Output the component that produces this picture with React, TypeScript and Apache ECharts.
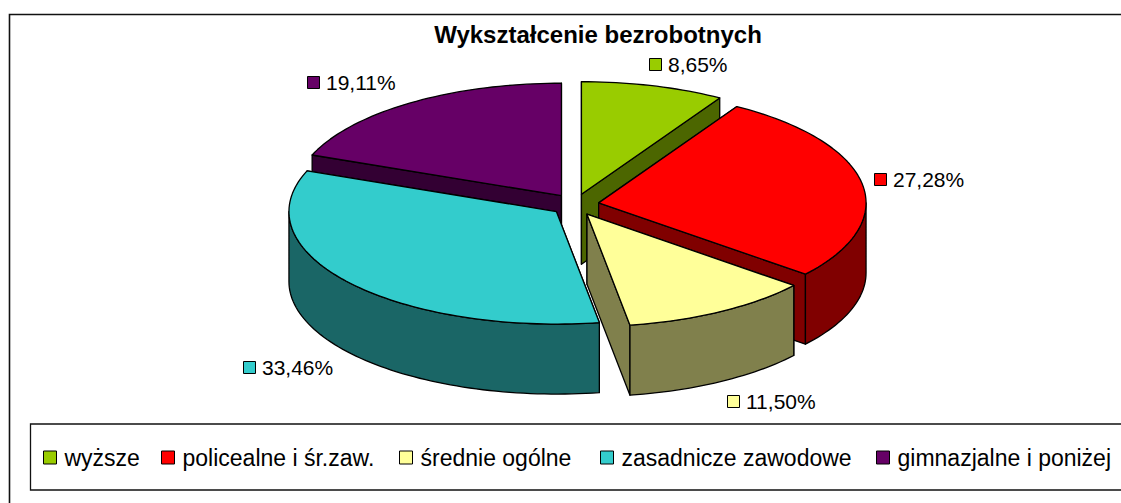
import React, { useEffect, useRef } from "react";
import * as echarts from "echarts";

const TITLE = "Wykształcenie bezrobotnych";
const categories = ["wyższe", "policealne i śr.zaw.", "średnie ogólne", "zasadnicze zawodowe", "gimnazjalne i poniżej"];
const shares = [8.65, 27.28, 11.5, 33.46, 19.11];

const topColors = ["#99CC00", "#FF0000", "#FFFF99", "#33CCCC", "#660066"];
const sideColors = ["#4C6600", "#800000", "#80804C", "#1A6666", "#330033"];
// painter's order: back slices first
const drawOrder = [4, 0, 1, 2, 3];
// top-left corner of each label's colour key
const labelKeys = [
  [649, 58],
  [874, 173],
  [727, 395],
  [243, 361],
  [307, 76],
];
const legendLefts = [43, 161, 399, 600, 876];

const FONT = "Liberation Sans";
const CX = 575;
const CY = 204.7;
const RX = 267.4;
const RY = 112.5;
const DEPTH = 70;
const EXPLODE_X = 24;
const EXPLODE_Y = 10.9;

const rad = (d: number) => (d * Math.PI) / 180;
const total = shares.reduce((a, b) => a + b, 0);
const startAngles = shares.map((_, i) => (shares.slice(0, i).reduce((a, b) => a + b, 0) / total) * 360);

function makeSeries(i: number, z: number) {
  return {
    type: "custom",
    name: categories[i],
    coordinateSystem: "none",
    z,
    silent: true,
    data: [shares[i]],
    itemStyle: { color: topColors[i], borderColor: "#000", borderWidth: 1 },
    renderItem: (_: any, api: any) => {
      const a0 = startAngles[i];
      const a1 = a0 + (api.value(0) / total) * 360;
      const mid = (a0 + a1) / 2;
      const ax = CX + EXPLODE_X * Math.sin(rad(mid));
      const ay = CY - EXPLODE_Y * Math.cos(rad(mid));
      const pt = (d: number, dy = 0) => [ax + RX * Math.sin(rad(d)), ay - RY * Math.cos(rad(d)) + dy];
      const arc = (from: number, to: number, dy = 0) => {
        const n = Math.max(1, Math.ceil((to - from) / 1.5));
        const out: number[][] = [];
        for (let k = 0; k <= n; k++) out.push(pt(from + ((to - from) * k) / n, dy));
        return out;
      };
      const line = { stroke: "#000", lineWidth: 1.3, lineJoin: "round" };
      const side = { ...line, fill: sideColors[i] };
      const face = (d: number) => ({
        type: "polygon",
        shape: { points: [[ax, ay], pt(d), pt(d, DEPTH), [ax, ay + DEPTH]] },
        style: side,
      });
      const children: any[] = [face(a0), face(a1)];
      const s0 = Math.max(a0, 90);
      const s1 = Math.min(a1, 270);
      if (s1 > s0) {
        children.push({
          type: "polygon",
          shape: { points: [...arc(s0, s1), ...arc(s0, s1, DEPTH).reverse()] },
          style: side,
        });
      }
      children.push({
        type: "polygon",
        shape: { points: [[ax, ay], ...arc(a0, a1)] },
        style: { ...line, fill: topColors[i] },
      });
      const [kx, ky] = labelKeys[i];
      children.push({
        type: "rect",
        shape: { x: kx + 0.5, y: ky + 0.5, width: 12, height: 12 },
        style: { fill: topColors[i], stroke: "#000", lineWidth: 1 },
      });
      children.push({
        type: "text",
        x: kx + 19,
        y: ky + 6,
        style: {
          text: api.value(0).toFixed(2).replace(".", ",") + "%",
          fill: "#000",
          fontFamily: FONT,
          fontSize: 21,
          textAlign: "left",
          textVerticalAlign: "middle",
        },
      });
      return { type: "group", children };
    },
  };
}

export default function App() {
  const ref = useRef<HTMLDivElement>(null);
  useEffect(() => {
    const chart = echarts.init(ref.current!, undefined, { renderer: "svg" });
    chart.setOption({
      animation: false,
      backgroundColor: "#fff",
      title: {
        text: TITLE,
        left: 598,
        top: 22,
        textAlign: "center",
        padding: 0,
        textStyle: { fontFamily: FONT, fontSize: 24, fontWeight: "bold", color: "#000" },
      },
      legend: categories.map((name, i) => ({
        data: [name],
        orient: "horizontal",
        left: legendLefts[i],
        top: 446,
        padding: 0,
        itemWidth: 13,
        itemHeight: 13,
        icon: "rect",
        selectedMode: false,
        itemStyle: { borderColor: "#000", borderWidth: 1 },
        textStyle: { fontFamily: FONT, fontSize: 23, color: "#000", padding: [0, 0, 0, 3] },
      })),
      graphic: [
        {
          type: "rect",
          silent: true,
          z: -1,
          shape: { x: 9.5, y: 14.5, width: 1130, height: 510 },
          style: { fill: "#fff", stroke: "#111", lineWidth: 1.6 },
        },
        {
          type: "rect",
          silent: true,
          z: 0,
          shape: { x: 30.5, y: 424, width: 1110, height: 66 },
          style: { fill: "#fff", stroke: "#111", lineWidth: 1.3 },
        },
      ],
      series: drawOrder.map((i, k) => makeSeries(i, 2 + k)),
    });
    return () => chart.dispose();
  }, []);
  return (
    <div
      ref={ref}
      style={{ position: "fixed", left: 0, top: 0, width: 1121, height: 503, overflow: "hidden" }}
    />
  );
}
